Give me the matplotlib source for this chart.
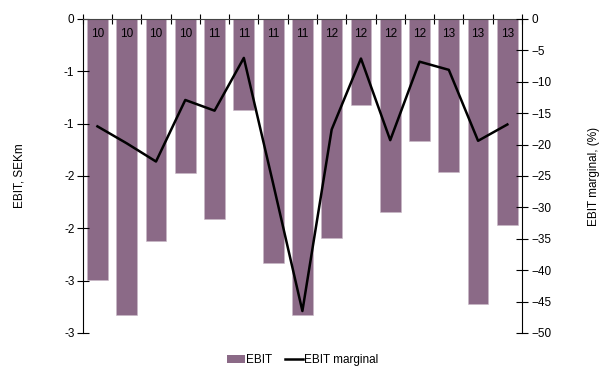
import numpy as np
import matplotlib.pyplot as plt
from matplotlib.patches import Patch
from matplotlib.lines import Line2D

plt.rcParams['font.family'] = ['Liberation Sans', 'DejaVu Sans']

# quarterly figures, 2010 - 2013 (year shown as two digits)
quarters = ['10', '10', '10', '10', '11', '11', '11', '11',
            '12', '12', '12', '12', '13', '13', '13']
ebit = [-2.49, -2.83, -2.12, -1.47, -1.91, -0.87, -2.33, -2.83,
        -2.09, -0.82, -1.84, -1.17, -1.46, -2.72, -1.97]
ebit_margin = [-17.1, -19.8, -22.7, -12.9, -14.6, -6.2, -26.2, -46.5,
               -17.6, -6.3, -19.3, -6.8, -8.1, -19.4, -16.8]

left_ticks = [0, -0.5, -1.0, -1.5, -2.0, -2.5, -3.0]
left_labels = ['0', '-1', '-1', '-2', '-2', '-3', '-3']
right_ticks = list(range(0, -55, -5))

bar_color = '#8b6a87'
fs = 8.5

fig = plt.figure(figsize=(6, 3.69), dpi=100)
ax = fig.add_axes([0.138, 0.0976, 0.732, 0.851])
x = np.arange(len(quarters))

ax.bar(x, ebit, width=0.71, color=bar_color, edgecolor='#c9b8c7', linewidth=0.4)
ax.set_xlim(-0.5, len(quarters) - 0.5)
ax.set_ylim(-3, 0)
ax.set_yticks(left_ticks)
ax.set_yticklabels(left_labels)
ax.set_ylabel('EBIT, SEKm', fontsize=fs, labelpad=28)

# x axis sits on the zero line at the top, labels inside the plot
ax.xaxis.set_ticks_position('top')
ax.set_xticks(x)
ax.set_xticklabels(quarters)
ax.set_xticks(np.arange(-0.5, len(quarters)), minor=True)
ax.tick_params(axis='x', which='major', length=0, labeltop=True,
               labelbottom=False, pad=-15, labelsize=fs)
ax.tick_params(axis='x', which='minor', direction='inout', length=7,
               width=0.8, top=True, bottom=False)
ax.tick_params(axis='y', direction='inout', length=8, width=0.8,
               labelsize=fs, pad=2)
ax.spines['bottom'].set_visible(False)
ax.spines['right'].set_visible(False)
ax.spines['top'].set_color('#444444')
for s in ax.spines.values():
    s.set_linewidth(0.8)

ax2 = ax.twinx()
ax2.plot(x, ebit_margin, color='black', linewidth=1.8)
ax2.set_ylim(-50, 0)
ax2.set_yticks(right_ticks)
ax2.tick_params(axis='y', direction='inout', length=8, width=0.8,
                labelsize=fs, pad=3)
ax2.set_ylabel('EBIT marginal, (%)', fontsize=fs, labelpad=26)
for side in ['top', 'bottom', 'left']:
    ax2.spines[side].set_visible(False)
ax2.spines['right'].set_linewidth(0.8)

handles = [Patch(facecolor=bar_color, edgecolor='none'),
           Line2D([0], [0], color='black', linewidth=1.8)]
fig.legend(handles, ['EBIT', 'EBIT marginal'], loc='center',
           bbox_to_anchor=(0.505, 0.024), ncol=2, frameon=False,
           fontsize=fs, handlelength=1.5, handleheight=0.6,
           handletextpad=0.1, columnspacing=1.1)

fig.savefig('out.png', dpi=100)
